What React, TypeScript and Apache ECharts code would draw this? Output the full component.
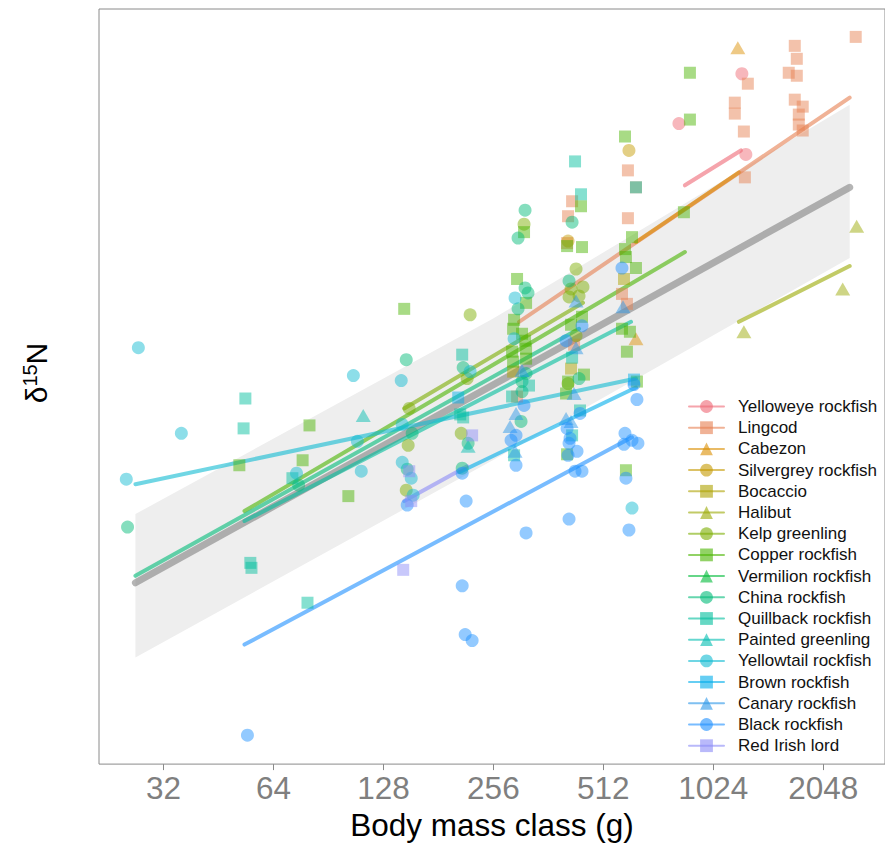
import React, { useEffect, useRef } from "react";
import * as echarts from "echarts";

// Body mass (g) and δ15N (‰) for each fish, grouped by species.
const species = [
  "Yelloweye rockfish",
  "Lingcod",
  "Cabezon",
  "Silvergrey rockfish",
  "Bocaccio",
  "Halibut",
  "Kelp greenling",
  "Copper rockfish",
  "Vermilion rockfish",
  "China rockfish",
  "Quillback rockfish",
  "Painted greenling",
  "Yellowtail rockfish",
  "Brown rockfish",
  "Canary rockfish",
  "Black rockfish",
  "Red Irish lord",
];

const speciesColors = [
  "#EE6874", "#E67F50", "#DB8E00", "#C49A00", "#AEA200", "#99A800",
  "#7CAE00", "#49B400", "#00BA38", "#00BA78", "#00BE9C", "#00BCB0",
  "#10BBD2", "#00ADEB", "#2996E8", "#1E90FF", "#8B8BF7",
];

const speciesSymbols = [
  "circle", "rect", "triangle", "circle", "rect", "triangle", "circle", "rect", "triangle",
  "circle", "rect", "triangle", "circle", "rect", "triangle", "circle", "rect",
];

const yelloweye = [[1226.5, 16.85], [824.7, 16.35], [1257.6, 16.04]];
const lingcod = [
  [2514, 17.22], [1712, 17.13], [1734, 17.0], [1648, 16.86], [1734, 16.83], [1273.5, 16.75],
  [1173, 16.56], [1173, 16.45], [1712, 16.59], [1800, 16.52], [1756, 16.44], [1756, 16.34],
  [1800, 16.28], [1242, 16.27], [1250, 15.81], [597.9, 15.88], [629.0, 15.71], [597.9, 15.4],
  [420.5, 15.57], [409.9, 15.42], [407.4, 15.15], [575.9, 14.64], [594.2, 14.54], [297.2, 13.61],
  [425.8, 14.13],
];
const cabezon = [[1195.6, 17.11], [629.0, 14.19]];
const silvergrey = [[601.8, 16.08], [409.9, 15.17]];
const bocaccio = [[289.9, 13.86], [417.7, 13.89], [583.2, 14.79]];
const halibut = [[2529, 15.32], [2316, 14.69], [1242, 14.26]];
const kelpGreenling = [
  [221.1, 14.43], [150.6, 13.49], [149.6, 13.12], [147.8, 12.67], [217.0, 13.79], [209.0, 13.24],
  [310.6, 15.34], [431.1, 14.89], [417.7, 14.69], [450.4, 14.71], [412.5, 14.61], [439.3, 14.62],
  [431.1, 14.22], [409.9, 13.74],
];
const copper = [
  [51.6, 12.92], [80.3, 13.32], [76.9, 12.97], [102.6, 12.61], [145.9, 14.49], [310.6, 15.26],
  [297.2, 14.79], [314.6, 14.55], [291.7, 14.38], [289.9, 14.29], [306.7, 14.24], [312.6, 14.17],
  [288.0, 14.06], [314.6, 14.09], [314.6, 13.99], [289.9, 13.96], [444.8, 15.52], [407.4, 15.12],
  [447.6, 15.11], [447.6, 14.41], [417.7, 14.33], [404.8, 13.64], [407.4, 13.03], [409.9, 13.76],
  [453.2, 13.83], [586.9, 16.22], [613.5, 15.21], [586.9, 15.09], [629.0, 14.9], [590.5, 15.01],
  [575.9, 14.29], [605.5, 14.26], [594.2, 14.06], [632.9, 13.76], [590.5, 12.87], [883.9, 16.86],
  [883.9, 16.39], [851.0, 15.46],
];
const vermilion: number[][] = [];
const china = [
  [25.5, 12.3], [75.0, 12.72], [147.8, 13.98], [153.4, 13.24], [148.7, 12.88], [211.6, 13.9],
  [218.3, 13.14], [210.3, 12.89], [312.6, 15.48], [299.1, 15.2], [312.6, 14.7], [318.5, 14.65],
  [299.1, 14.49], [314.6, 13.84], [306.7, 13.76], [306.7, 13.66], [304.8, 13.36], [420.5, 15.36],
  [412.5, 14.77], [439.3, 13.79],
];
const quillback = [
  [53.6, 13.59], [53.0, 13.29], [72.1, 12.79], [55.3, 11.94], [55.7, 11.89], [79.3, 11.54],
  [210.3, 14.03], [207.7, 13.43], [211.6, 13.4], [320.5, 13.72], [288.0, 13.61], [291.7, 13.02],
  [428.4, 15.97], [444.8, 15.64], [629.0, 15.71], [420.5, 14.0], [442.0, 13.47], [420.5, 13.22],
];
const paintedGreenling = [[112.7, 13.42], [218.3, 13.11]];
const yellowtail = [
  [27.3, 14.1], [25.3, 12.78], [35.8, 13.24], [74.0, 12.84], [105.9, 13.82], [108.6, 13.16],
  [111.3, 12.86], [143.2, 13.77], [144.1, 13.33], [144.1, 12.95], [152.5, 12.79], [154.4, 12.62],
  [221.1, 13.86], [293.5, 14.6], [291.7, 14.19], [613.5, 12.49],
];
const brown = [[205.1, 13.6], [621.2, 13.78]];
const canary = [
  [284.4, 13.31], [295.3, 13.44], [293.5, 13.06], [306.7, 13.87], [431.1, 14.57], [431.1, 14.1],
  [425.8, 13.64], [404.8, 13.39], [417.7, 13.36], [579.6, 14.51],
];
const black = [
  [54.3, 10.21], [148.7, 12.52], [210.3, 12.84], [215.6, 12.56], [210.3, 11.71], [214.3, 11.22],
  [223.9, 11.16], [310.6, 13.52], [295.3, 13.22], [286.2, 13.17], [295.3, 12.92], [314.6, 12.24],
  [404.8, 14.17], [442.0, 13.44], [407.4, 13.29], [415.1, 13.19], [412.5, 13.14], [433.8, 13.06],
  [409.9, 13.02], [428.4, 12.86], [447.6, 12.86], [412.5, 12.38], [447.6, 14.32], [575.9, 14.9],
  [621.2, 13.73], [632.9, 13.58], [586.9, 13.24], [583.2, 13.13], [613.5, 13.17], [636.9, 13.14],
  [590.5, 12.79], [601.8, 12.27],
];
const redIrishLord = [[150.6, 12.86], [152.5, 12.56], [145.0, 11.87], [223.9, 13.22]];

const speciesPoints = [
  yelloweye, lingcod, cabezon, silvergrey, bocaccio, halibut, kelpGreenling, copper, vermilion,
  china, quillback, paintedGreenling, yellowtail, brown, canary, black, redIrishLord,
];

// Fitted trend for each species: [mass at start, δ15N], [mass at end, δ15N]
const speciesFits: number[][][] = [
  [[856.3, 15.73], [1219, 16.08]],
  [[301.0, 14.36], [2420, 16.61]],
  [[629.0, 15.16], [1203.7, 15.86]],
  [],
  [],
  [[1203.7, 14.36], [2420, 14.92]],
  [[145.9, 13.49], [450.4, 14.55]],
  [[53.3, 12.46], [856.3, 15.06]],
  [],
  [[26.8, 11.81], [439.3, 14.29]],
  [[53.3, 12.36], [609.7, 14.36]],
  [],
  [[26.8, 12.73], [629.0, 13.79]],
  [[206.4, 12.85], [629.0, 13.7]],
  [],
  [[53.3, 11.12], [613.5, 13.2]],
  [[145.9, 12.56], [217.0, 12.91]],
];

// Overall fit and its confidence band
const overallFit = [[26.8, 11.74], [2420, 15.71]];
const bandMass = [26.8, 255, 2420];
const bandLower = [10.99, 12.97, 15.0];
const bandUpper = [12.43, 14.39, 16.54];

const massTicks = [32, 64, 128, 256, 512, 1024, 2048];

const symbolSizes: Record<string, number | number[]> = {
  circle: 13,
  rect: 12,
  triangle: [15, 13],
};

function withAlpha(hex: string, a: number) {
  const n = parseInt(hex.slice(1), 16);
  return `rgba(${(n >> 16) & 255},${(n >> 8) & 255},${n & 255},${a})`;
}

const toXY = (p: number[]) => [Math.log2(p[0]), p[1]];

export default function App() {
  const ref = useRef<HTMLDivElement>(null);

  useEffect(() => {
    if (!ref.current) return;
    const chart = echarts.init(ref.current, null, { renderer: "svg" });
    const font = "Liberation Sans, Arial, Helvetica, sans-serif";

    const series: any[] = [];

    series.push({
      type: "custom",
      name: "band",
      silent: true,
      z: 1,
      data: bandMass.map((m, i) => [Math.log2(m), bandLower[i], bandUpper[i]]),
      renderItem: (params: any, api: any) => {
        if (params.dataIndex !== 0) return null;
        const upper = bandMass.map((m, i) => api.coord([Math.log2(m), bandUpper[i]]));
        const lower = bandMass
          .map((m, i) => api.coord([Math.log2(m), bandLower[i]]))
          .reverse();
        return {
          type: "polygon",
          shape: { points: upper.concat(lower) },
          style: { fill: "#EEEEEE" },
        };
      },
    });

    series.push({
      type: "line",
      name: "overall",
      data: overallFit.map(toXY),
      showSymbol: false,
      silent: true,
      z: 2,
      lineStyle: { color: "rgba(120,120,120,0.55)", width: 7, cap: "round" },
    });

    species.forEach((name, i) => {
      const c = withAlpha(speciesColors[i], 0.6);
      series.push({
        type: "line",
        name,
        data: speciesFits[i].map(toXY),
        symbol: speciesSymbols[i],
        symbolSize: symbolSizes[speciesSymbols[i]],
        showSymbol: false,
        silent: true,
        z: 3,
        itemStyle: { color: c },
        lineStyle: { color: c, width: 4, cap: "round" },
      });
    });

    species.forEach((name, i) => {
      const c = withAlpha(speciesColors[i], 0.6);
      series.push({
        type: "scatter",
        name,
        data: speciesPoints[i].map(toXY),
        symbol: speciesSymbols[i],
        symbolSize: symbolSizes[speciesSymbols[i]],
        silent: true,
        z: 4,
        itemStyle: { color: c },
      });
    });

    const tickValues = massTicks.map((m) => Math.log2(m));

    chart.setOption({
      animation: false,
      textStyle: { fontFamily: font },
      grid: {
        left: 99,
        top: 9,
        width: 787,
        height: 758,
        show: true,
        borderColor: "#8A8A8A",
        borderWidth: 1,
        backgroundColor: "transparent",
      },
      xAxis: {
        type: "value",
        min: Math.log2(21.3),
        max: Math.log2(21.3) + 787 / 110.08,
        axisLine: { show: false },
        splitLine: { show: false },
        axisTick: {
          show: true,
          length: 6,
          customValues: tickValues,
          lineStyle: { color: "#8A8A8A", width: 1 },
        },
        axisLabel: {
          customValues: tickValues,
          formatter: (v: number) => String(Math.round(Math.pow(2, v))),
          color: "#7F7F7F",
          fontSize: 31.5,
          margin: 8,
          fontFamily: font,
        },
        name: "Body mass class (g)",
        nameLocation: "middle",
        nameGap: 40,
        nameTextStyle: { color: "#000", fontSize: 31.5, fontFamily: font },
      },
      yAxis: {
        type: "value",
        min: 9.92,
        max: 17.5,
        axisLine: { show: false },
        axisTick: { show: false },
        axisLabel: { show: false },
        splitLine: { show: false },
      },
      legend: {
        data: species,
        orient: "vertical",
        left: 683,
        top: 393,
        itemWidth: 35,
        itemHeight: 16,
        itemGap: 4.2,
        selectedMode: false,
        textStyle: {
          fontSize: 17,
          lineHeight: 16,
          color: "#111",
          fontFamily: font,
          padding: [0, 0, 0, 9],
        },
      },
      graphic: [
        {
          type: "text",
          x: 36,
          y: 373,
          rotation: Math.PI / 2,
          silent: true,
          style: {
            text: "{a|δ}{s|15}{a|N}",
            align: "center",
            verticalAlign: "middle",
            rich: {
              a: { fontSize: 30, fontFamily: font, fill: "#000", lineHeight: 32 },
              s: { fontSize: 20, fontFamily: font, fill: "#000", verticalAlign: "top", lineHeight: 22 },
            },
          },
        },
      ],
      series,
    });

    return () => chart.dispose();
  }, []);

  return (
    <div
      ref={ref}
      style={{ position: "fixed", left: 0, top: 0, width: 885, height: 846, background: "#fff" }}
    />
  );
}
